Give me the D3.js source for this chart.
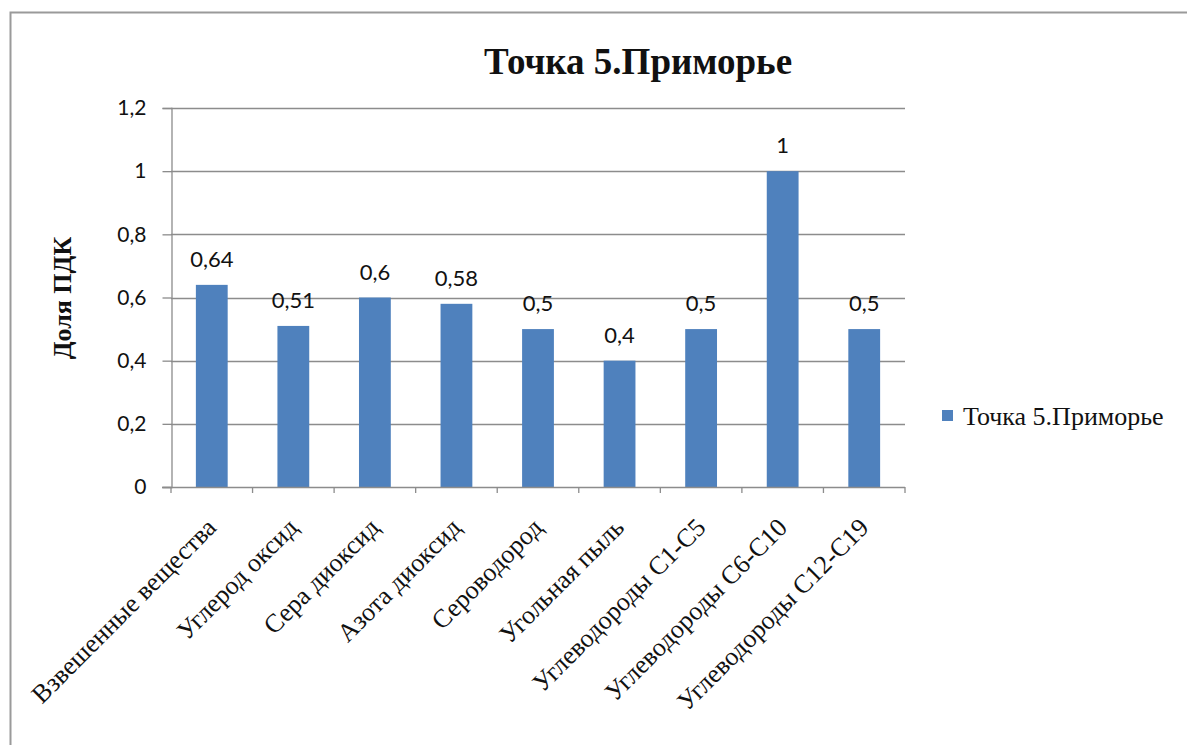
<!DOCTYPE html>
<html>
<head>
<meta charset="utf-8">
<script src="https://cdn.jsdelivr.net/npm/d3@7"></script>
<style>
  html, body { margin: 0; padding: 0; background: #fff; }
  svg { display: block; }
</style>
</head>
<body>
<svg id="chart" width="1187" height="745"></svg>
<script>
// Pollutant categories and their share of the maximum permissible concentration
const categories = [
  "Взвешенные вещества",
  "Углерод оксид",
  "Сера диоксид",
  "Азота диоксид",
  "Сероводород",
  "Угольная пыль",
  "Углеводороды С1-С5",
  "Углеводороды С6-С10",
  "Углеводороды С12-С19"
];
const values = [0.64, 0.51, 0.6, 0.58, 0.5, 0.4, 0.5, 1, 0.5];
const yTicks = [0, 0.2, 0.4, 0.6, 0.8, 1, 1.2];
const seriesName = "Точка 5.Приморье";
const chartTitle = "Точка 5.Приморье";
const yTitle = "Доля ПДК";

const fmt = v => String(v).replace(".", ",");

const svg = d3.select("#chart");
const W = 1187, H = 745;
const plot = { left: 171, right: 905, top: 108, bottom: 487 };
const barColor = "#4f81bd";
const lineColor = "#8c8c8c";

// chart frame
svg.append("path")
  .attr("d", `M10.5,${H} V12.5 H${W}`)
  .attr("fill", "none")
  .attr("stroke", "#9a9a9a")
  .attr("stroke-width", 2);

const x = d3.scaleBand()
  .domain(categories)
  .range([plot.left, plot.right])
  .paddingInner(0.61)
  .paddingOuter(0.305);

const xEdges = d3.scaleLinear()
  .domain([0, categories.length])
  .range([plot.left, plot.right]);

const y = d3.scaleLinear()
  .domain([0, 1.2])
  .range([plot.bottom, plot.top]);

// horizontal gridlines
svg.append("g")
  .selectAll("line")
  .data(yTicks.filter(t => t > 0))
  .join("line")
  .attr("x1", plot.left)
  .attr("x2", plot.right)
  .attr("y1", d => Math.round(y(d)) + 0.5)
  .attr("y2", d => Math.round(y(d)) + 0.5)
  .attr("stroke", lineColor)
  .attr("stroke-width", 1.3);

// y axis
const yAxis = svg.append("g")
  .attr("transform", `translate(${plot.left + 0.5},0)`)
  .call(d3.axisLeft(y).tickValues(yTicks).tickFormat(fmt).tickSize(9).tickPadding(16));
yAxis.select(".domain").attr("stroke", lineColor).attr("stroke-width", 1.3);
yAxis.selectAll(".tick line").attr("stroke", lineColor).attr("stroke-width", 1.3);
yAxis.selectAll("text")
  .attr("font-family", "Lato, 'Open Sans', sans-serif")
  .attr("font-size", 21)
  .attr("fill", "#111");

// bars
svg.append("g")
  .selectAll("rect")
  .data(values)
  .join("rect")
  .attr("x", (d, i) => x(categories[i]))
  .attr("width", x.bandwidth())
  .attr("y", d => y(d))
  .attr("height", d => y(0) - y(d))
  .attr("fill", barColor);

// x axis line with category boundary ticks
svg.append("line")
  .attr("x1", plot.left - 9)
  .attr("x2", plot.right)
  .attr("y1", plot.bottom + 0.5)
  .attr("y2", plot.bottom + 0.5)
  .attr("stroke", lineColor)
  .attr("stroke-width", 1.3);
svg.append("g")
  .selectAll("line")
  .data(d3.range(categories.length + 1))
  .join("line")
  .attr("x1", d => xEdges(d))
  .attr("x2", d => xEdges(d))
  .attr("y1", plot.bottom)
  .attr("y2", plot.bottom + 6)
  .attr("stroke", lineColor)
  .attr("stroke-width", 1.3);

// value labels
svg.append("g")
  .selectAll("text")
  .data(values)
  .join("text")
  .attr("x", (d, i) => x(categories[i]) + x.bandwidth() / 2)
  .attr("y", d => y(d) - 18)
  .attr("text-anchor", "middle")
  .attr("font-family", "Lato, 'Open Sans', sans-serif")
  .attr("font-size", 22)
  .attr("fill", "#111")
  .text(fmt);

// category labels, rotated
svg.append("g")
  .selectAll("text")
  .data(categories)
  .join("text")
  .attr("transform", d => `translate(${x(d) + x.bandwidth() / 2 + 6},${plot.bottom + 42}) rotate(-45)`)
  .attr("text-anchor", "end")
  .attr("font-family", "'Liberation Serif', 'Times New Roman', serif")
  .attr("font-size", 26)
  .attr("fill", "#111")
  .text(d => d);

// title
svg.append("text")
  .attr("x", 638)
  .attr("y", 74)
  .attr("text-anchor", "middle")
  .attr("font-family", "'Liberation Serif', 'Times New Roman', serif")
  .attr("font-weight", "bold")
  .attr("font-size", 37)
  .attr("fill", "#111")
  .text(chartTitle);

// y axis title
svg.append("text")
  .attr("transform", `translate(71,298) rotate(-90)`)
  .attr("text-anchor", "middle")
  .attr("font-family", "'Liberation Serif', 'Times New Roman', serif")
  .attr("font-weight", "bold")
  .attr("font-size", 26)
  .attr("fill", "#111")
  .text(yTitle);

// legend
const legend = svg.append("g").attr("transform", "translate(942,410)");
legend.append("rect")
  .attr("width", 11)
  .attr("height", 11)
  .attr("fill", barColor);
legend.append("text")
  .attr("x", 21)
  .attr("y", 15)
  .attr("font-family", "'Liberation Serif', 'Times New Roman', serif")
  .attr("font-size", 26)
  .attr("fill", "#111")
  .text(seriesName);
</script>
</body>
</html>
